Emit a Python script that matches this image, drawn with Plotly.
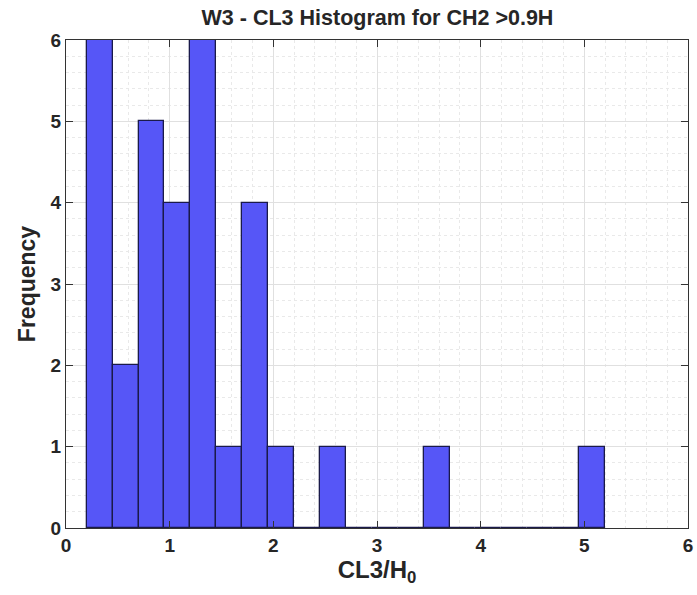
import plotly.graph_objects as go

bin_left = [0.2, 0.45, 0.7, 0.95, 1.2, 1.45, 1.7, 1.95, 2.2, 2.45, 2.7, 2.95, 3.2, 3.45,
            3.7, 3.95, 4.2, 4.45, 4.7, 4.95]
counts = [6, 2, 5, 4, 6, 1, 4, 1, 0, 1, 0, 0, 0, 1, 0, 0, 0, 0, 0, 1]
bin_width = 0.25
x_ticks = [0, 1, 2, 3, 4, 5, 6]
y_ticks = [0, 1, 2, 3, 4, 5, 6]

fig = go.Figure()
fig.add_trace(go.Bar(
    x=bin_left, y=counts, width=bin_width, offset=0,
    marker=dict(color="#5656f7", line=dict(color="#1a1a4a", width=1.3)),
    showlegend=False,
))

font_family = "Liberation Sans, Arial, sans-serif"
axis_common = dict(
    showline=True, linecolor="#333333", linewidth=1.2, mirror="allticks",
    ticks="inside", ticklen=7, tickcolor="#333333", tickwidth=1,
    showgrid=True, gridcolor="#e0e0e0", gridwidth=1,
    zeroline=False, automargin=False,
    tickfont=dict(family=font_family, size=19, color="#262626", weight="bold"),
)

fig.update_xaxes(
    range=[0, 6], tickvals=x_ticks, **axis_common,
    minor=dict(dtick=0.2, showgrid=True, gridcolor="#e9e9e9", griddash="dot", gridwidth=1, ticks=""),
    title=dict(text="CL3/H<sub>0</sub>", font=dict(family=font_family, size=24, color="#262626", weight="bold"), standoff=2),
)
fig.update_yaxes(
    range=[0, 6], tickvals=y_ticks, **axis_common,
    minor=dict(dtick=0.2, showgrid=True, gridcolor="#e9e9e9", griddash="dot", gridwidth=1, ticks=""),
    title=dict(text="Frequency", font=dict(family=font_family, size=23, color="#262626", weight="bold"), standoff=8),
)

fig.update_layout(
    width=697, height=595,
    margin=dict(l=66, r=9, t=40, b=67),
    paper_bgcolor="white", plot_bgcolor="white",
    bargap=0,
    title=dict(text="W3 - CL3 Histogram for CH2 >0.9H", x=0.5416, xanchor="center", y=0.971, yanchor="middle",
               font=dict(family=font_family, size=21.5, color="#262626", weight="bold")),
)

fig.write_html("out.html", config={"displayModeBar": False},
               post_script="document.body.style.margin='0px';")
